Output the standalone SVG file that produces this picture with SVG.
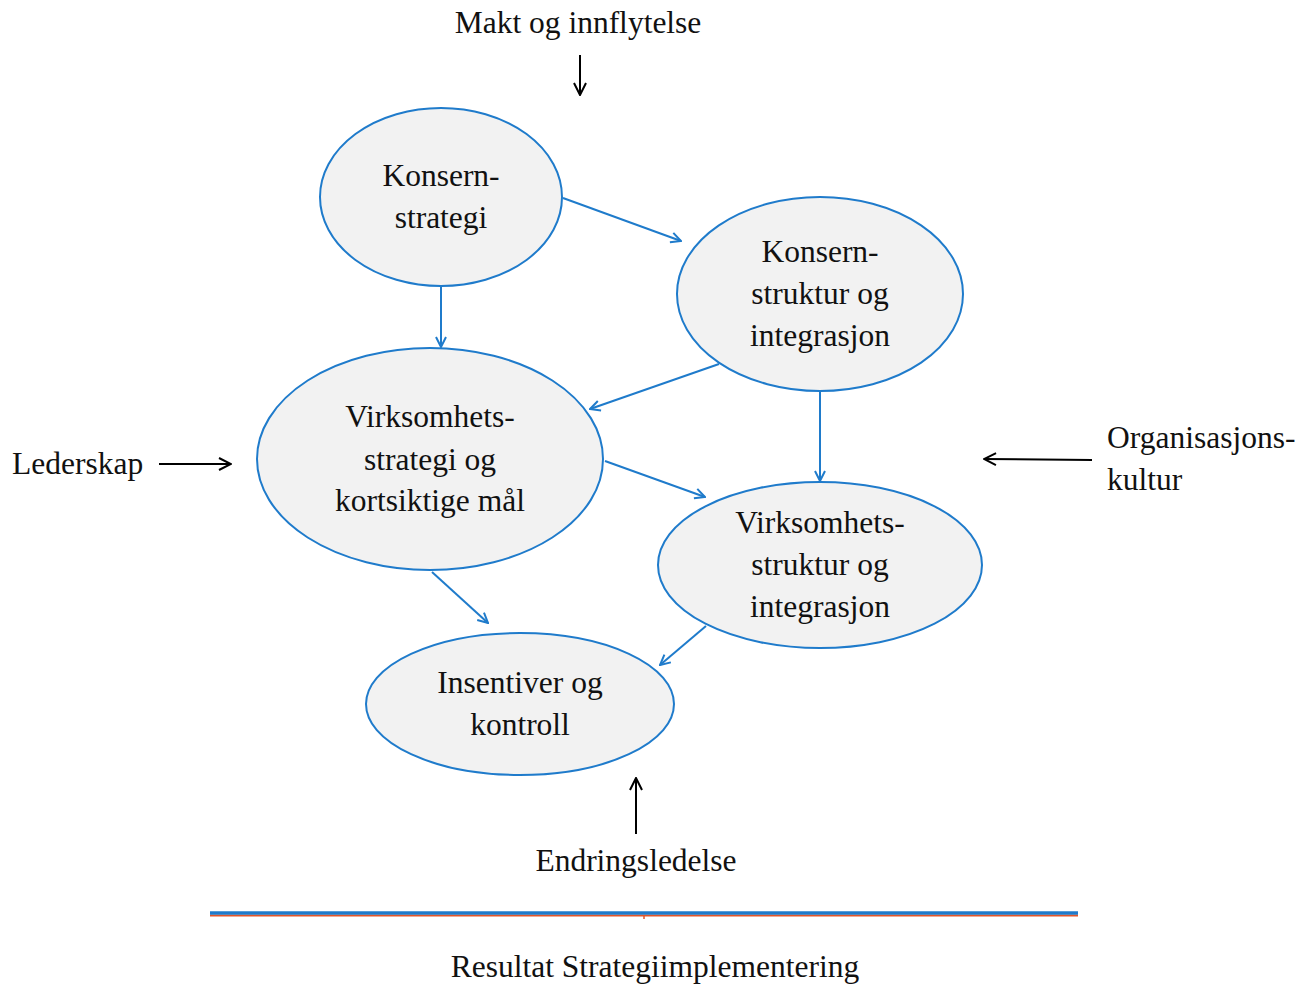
<svg xmlns="http://www.w3.org/2000/svg" width="1311" height="987" viewBox="0 0 1311 987">
<defs>
<marker id="ba" viewBox="0 0 12 12" refX="11" refY="6" markerWidth="12" markerHeight="12" markerUnits="userSpaceOnUse" orient="auto">
<path d="M1,1 L11,6 L1,11" fill="none" stroke="#1f7bcb" stroke-width="2"/>
</marker>
<marker id="ka" viewBox="0 0 14 14" refX="13" refY="7" markerWidth="14" markerHeight="14" markerUnits="userSpaceOnUse" orient="auto">
<path d="M1,1 L13,7 L1,13" fill="none" stroke="#000" stroke-width="2"/>
</marker>
<style>
.n ellipse{fill:#f2f2f2;stroke:#1f7bcb;stroke-width:2}
text{font-family:"Liberation Serif",serif;font-size:31.5px;fill:#111}
.c{text-anchor:middle}
.b{stroke:#1f7bcb;stroke-width:2;fill:none;marker-end:url(#ba)}
.k{stroke:#000;stroke-width:2;fill:none;marker-end:url(#ka)}
</style>
</defs>
<rect width="1311" height="987" fill="#fff"/>
<g id="connectors">
<line class="b" x1="563" y1="198" x2="681" y2="241"/>
<line class="b" x1="441" y1="287" x2="441" y2="347"/>
<line class="b" x1="719" y1="364" x2="590" y2="409"/>
<line class="b" x1="820" y1="391" x2="820" y2="481"/>
<line class="b" x1="605" y1="461" x2="705" y2="497"/>
<line class="b" x1="432" y1="572" x2="488" y2="623"/>
<line class="b" x1="706" y1="626" x2="660" y2="665"/>
<line class="k" x1="580" y1="55" x2="580" y2="95"/>
<line class="k" x1="159" y1="464" x2="231" y2="464"/>
<line class="k" x1="1092" y1="460" x2="984" y2="459"/>
<line class="k" x1="636" y1="834" x2="636" y2="778"/>
</g>
<g id="n1" class="n">
<ellipse cx="441" cy="197" rx="121" ry="89"/>
<text class="c" x="441" y="186">Konsern-</text>
<text class="c" x="441" y="228">strategi</text>
</g>
<g id="n2" class="n">
<ellipse cx="820" cy="294" rx="143" ry="97"/>
<text class="c" x="820" y="262">Konsern-</text>
<text class="c" x="820" y="304">struktur og</text>
<text class="c" x="820" y="346">integrasjon</text>
</g>
<g id="n3" class="n">
<ellipse cx="430" cy="459" rx="173" ry="111"/>
<text class="c" x="430" y="427">Virksomhets-</text>
<text class="c" x="430" y="470">strategi og</text>
<text class="c" x="430" y="511">kortsiktige mål</text>
</g>
<g id="n4" class="n">
<ellipse cx="820" cy="565" rx="162" ry="83"/>
<text class="c" x="820" y="533">Virksomhets-</text>
<text class="c" x="820" y="575">struktur og</text>
<text class="c" x="820" y="617">integrasjon</text>
</g>
<g id="n5" class="n">
<ellipse cx="520" cy="704" rx="154" ry="71"/>
<text class="c" x="520" y="693">Insentiver og</text>
<text class="c" x="520" y="735">kontroll</text>
</g>
<g id="labels">
<text class="c" x="578" y="33">Makt og innflytelse</text>
<text x="12" y="474">Lederskap</text>
<text x="1107" y="448">Organisasjons-</text>
<text x="1107" y="490">kultur</text>
<text class="c" x="636" y="871">Endringsledelse</text>
<text class="c" x="655" y="977">Resultat Strategiimplementering</text>
</g>
<g id="baseline">
<line x1="210" y1="915.5" x2="1078" y2="915.5" stroke="#e0562a" stroke-width="2"/>
<line x1="644" y1="915" x2="644" y2="919" stroke="#e0562a" stroke-width="1.5"/>
<line x1="210" y1="913" x2="1078" y2="913" stroke="#1f7bcb" stroke-width="3.5"/>
</g>
</svg>
